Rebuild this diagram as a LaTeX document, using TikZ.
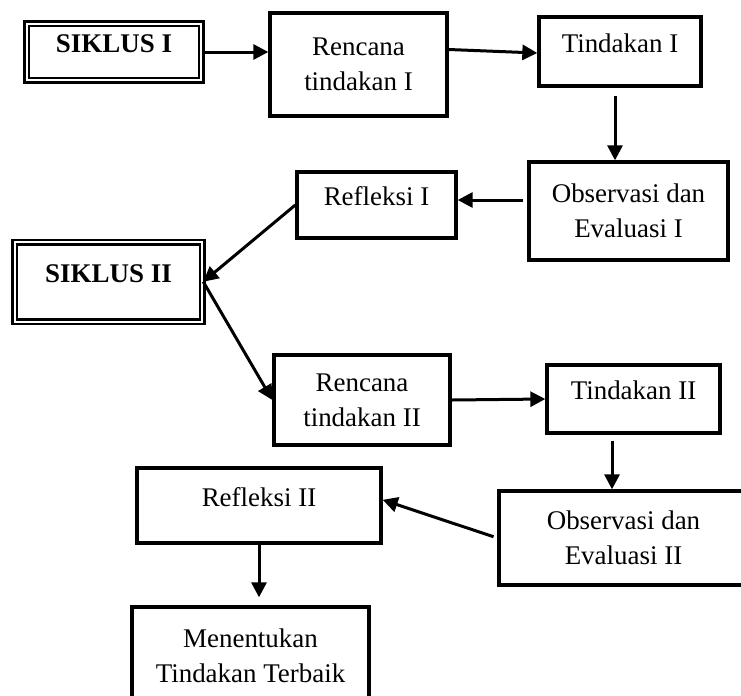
\documentclass[tikz,border=0pt]{standalone}
\usepackage{fontspec}
\setmainfont{Liberation Serif}
\usetikzlibrary{arrows.meta}

\tikzset{
  box/.style={draw, rectangle, line width=0.1cm, align=center, inner sep=2pt},
  onerow/.style={text height=15pt, text depth=14pt},
  siklus/.style={draw, rectangle, double, line width=0.075cm, double distance=0.06cm,
    font=\fontsize{23}{30}\selectfont\bfseries, inner sep=2pt, onerow},
  arr/.style={-{Triangle[length=0.45cm,width=0.45cm]}, line width=0.09cm}
}

\begin{document}
\begin{tikzpicture}[x=0.03cm, y=-0.03cm, font=\fontsize{23}{30}\selectfont]

\useasboundingbox (0,0) rectangle (741,695);

% Siklus I
\node[siklus, minimum width=5.235cm, minimum height=1.695cm] (sik1) at (114,52) {SIKLUS I};
\node[box, minimum width=5.31cm, minimum height=3.09cm] (ren1) at (358.5,64.5) {Rencana\\tindakan I};
\node[box, onerow, minimum width=4.86cm, minimum height=2.07cm] (tin1) at (620,51.5) {Tindakan I};
\node[box, minimum width=5.97cm, minimum height=2.94cm] (obs1) at (628.5,211) {Observasi dan\\Evaluasi I};
\node[box, onerow, minimum width=4.77cm, minimum height=1.98cm] (ref1) at (376.5,205) {Refleksi I};

% Siklus II
\node[siklus, minimum width=5.61cm, minimum height=2.385cm] (sik2) at (108.5,281.75) {SIKLUS II};
\node[box, minimum width=5.28cm, minimum height=2.7cm] (ren2) at (362,400) {Rencana\\tindakan II};
\node[box, onerow, minimum width=5.19cm, minimum height=2.04cm] (tin2) at (633.5,399) {Tindakan II};
\node[box, minimum width=7.47cm, minimum height=2.82cm] (obs2) at (623.5,538) {Observasi dan\\Evaluasi II};
\node[box, onerow, minimum width=7.32cm, minimum height=2.25cm] (ref2) at (259,505.5) {Refleksi II};
\node[box, minimum width=7.11cm, minimum height=2.94cm] (men) at (250.5,656) {Menentukan\\Tindakan Terbaik};

% Arrows
\draw[arr] (sik1.east) -- (sik1.east -| ren1.west);
\draw[arr] ([yshift=0.45cm]ren1.east) -- ([yshift=-0.045cm]tin1.west);
\draw[arr, shorten <=0.24cm] ([xshift=-0.15cm]tin1.south) coordinate (t1s) -- (t1s |- obs1.north);
\draw[arr, shorten <=0.12cm] ([yshift=0.33cm]obs1.west) coordinate (o1w) -- (o1w -| ref1.east);
\draw[arr] (ref1.west) -- (sik2.east);
\draw[arr] (sik2.east) -- (ren2.west);
\draw[arr] (ren2.east) -- (tin2.west);
\draw[arr, shorten <=0.18cm] ([xshift=-0.645cm]tin2.south) coordinate (t2s) -- (t2s |- obs2.north);
\draw[arr, shorten <=0.12cm] (obs2.west) -- ([yshift=0.17cm]ref2.east);
\draw[arr, shorten >=0.24cm] (ref2.south) -- (ref2.south |- men.north);

\end{tikzpicture}
\end{document}
